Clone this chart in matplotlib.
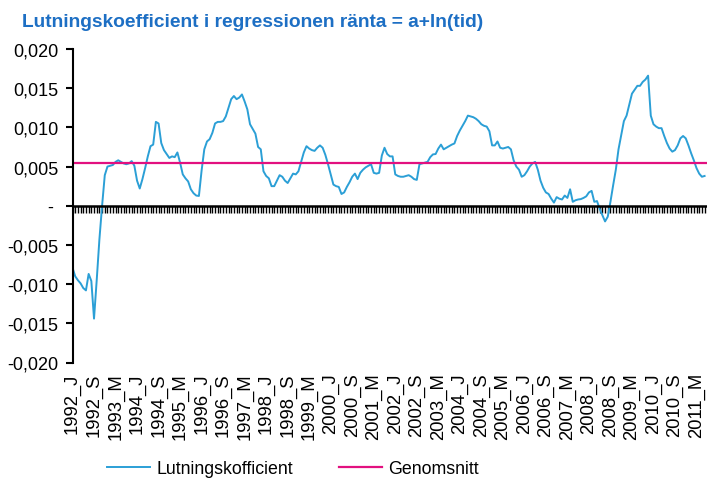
import numpy as np
import matplotlib
matplotlib.use("Agg")
import matplotlib.pyplot as plt
from matplotlib.ticker import FuncFormatter

plt.rcParams['font.family'] = ['Liberation Sans', 'DejaVu Sans']

# Monthly values (x 0.001), Jan 1992 onwards
v1992 = [-7.9, -9.0, -9.5, -9.9, -10.5, -10.8, -8.7, -9.6, -14.4, -9.5, -4.3, 0.0]
v1993 = [3.9, 5.0, 5.1, 5.2, 5.6, 5.8, 5.6, 5.4, 5.3, 5.4, 5.7, 5.1]
v1994 = [3.2, 2.2, 3.4, 4.8, 6.3, 7.6, 7.8, 10.7, 10.5, 8.0, 7.1, 6.6]
v1995 = [6.1, 6.3, 6.2, 6.8, 5.5, 4.0, 3.5, 3.1, 2.1, 1.6, 1.3, 1.25]
v1996 = [4.5, 7.2, 8.2, 8.5, 9.3, 10.5, 10.7, 10.7, 10.8, 11.4, 12.5, 13.6]
v1997 = [14.0, 13.6, 13.8, 14.2, 13.3, 12.3, 10.4, 9.8, 9.2, 7.5, 7.2, 4.4]
v1998 = [3.8, 3.5, 2.5, 2.5, 3.2, 3.9, 3.7, 3.2, 2.9, 3.5, 4.1, 4.0]
v1999 = [4.4, 5.6, 6.8, 7.6, 7.3, 7.1, 7.0, 7.4, 7.7, 7.4, 6.5, 5.3]
v2000 = [4.0, 2.7, 2.5, 2.4, 1.5, 1.7, 2.4, 3.0, 3.7, 4.1, 3.4, 4.2]
v2001 = [4.6, 4.9, 5.1, 5.3, 4.2, 4.1, 4.2, 6.4, 7.4, 6.6, 6.3, 6.3]
v2002 = [4.0, 3.8, 3.7, 3.7, 3.8, 3.9, 3.7, 3.4, 3.3, 5.3, 5.4, 5.5]
v2003 = [5.6, 6.2, 6.55, 6.6, 7.3, 7.8, 7.2, 7.4, 7.6, 7.8, 7.95, 8.9]
v2004 = [9.6, 10.2, 10.8, 11.5, 11.4, 11.3, 11.1, 10.8, 10.4, 10.2, 10.1, 9.5]
v2005 = [7.7, 7.7, 8.2, 7.4, 7.3, 7.4, 7.5, 7.2, 5.8, 5.0, 4.6, 3.7]
v2006 = [3.9, 4.4, 5.0, 5.4, 5.6, 4.6, 3.2, 2.3, 1.7, 1.5, 0.9, 0.4]
v2007 = [1.1, 0.9, 0.8, 1.3, 1.0, 2.1, 0.5, 0.7, 0.8, 0.85, 1.0, 1.2]
v2008 = [1.7, 1.9, 0.5, 0.6, -0.4, -1.2, -2.0, -1.4, 0.5, 2.6, 4.6, 7.2]
v2009 = [9.0, 10.8, 11.5, 12.9, 14.3, 14.8, 15.3, 15.3, 15.8, 16.1, 16.6, 11.5]
v2010 = [10.4, 10.1, 9.9, 9.9, 8.9, 8.0, 7.3, 6.9, 7.1, 7.7, 8.6, 8.9]
v2011 = [8.6, 7.7, 6.7, 5.8, 4.8, 4.1, 3.7, 3.8]

genomsnitt = 0.0054

tick_labels = ["1992_J", "1992_S", "1993_M", "1994_J", "1994_S", "1995_M",
               "1996_J", "1996_S", "1997_M", "1998_J", "1998_S", "1999_M",
               "2000_J", "2000_S", "2001_M", "2002_J", "2002_S", "2003_M",
               "2004_J", "2004_S", "2005_M", "2006_J", "2006_S", "2007_M",
               "2008_J", "2008_S", "2009_M", "2010_J", "2010_S", "2011_M"]
label_step = 8  # months between labels

series_name = "Lutningskofficient"
mean_name = "Genomsnitt"
title = "Lutningskoefficient i regressionen ränta = a+ln(tid)"

vals = np.array(v1992 + v1993 + v1994 + v1995 + v1996 + v1997 + v1998 + v1999 +
                v2000 + v2001 + v2002 + v2003 + v2004 + v2005 + v2006 + v2007 +
                v2008 + v2009 + v2010 + v2011) / 1000.0
months = np.arange(len(vals))

fig = plt.figure(figsize=(7.07, 4.81), dpi=100)
ax = fig.add_axes([72.5 / 707, 1 - 363.5 / 481, 1 - 72.5 / 707, (363.5 - 50) / 481])

blue = '#2b9fd6'
pink = '#e2107f'

l1, = ax.plot(months, vals, color=blue, lw=1.4, label=series_name)
l2 = ax.axhline(genomsnitt, color=pink, lw=1.6, label=mean_name)

ax.set_ylim(-0.020, 0.020)
ax.set_xlim(0, 235.9)

# spines
for s in ['top', 'right']:
    ax.spines[s].set_visible(False)
ax.spines['left'].set_linewidth(1.5)
ax.spines['bottom'].set_position(('data', 0))
ax.spines['bottom'].set_linewidth(1.8)

# y ticks
ax.set_yticks(np.arange(-0.020, 0.0201, 0.005))
def yfmt(v, pos):
    if abs(v) < 1e-9:
        return "- "
    return f"{v:.3f}".replace('.', ',')
ax.yaxis.set_major_formatter(FuncFormatter(yfmt))
ax.tick_params(axis='y', direction='out', length=5, width=1.5, pad=5, labelsize=13)

# monthly ticks on zero line
ax.set_xticks(months)
ax.tick_params(axis='x', direction='out', length=5, width=1.0, labelbottom=False)

# labels at bottom via secondary axis
sec = ax.secondary_xaxis('bottom')
sec.set_xticks(np.arange(len(tick_labels)) * label_step, tick_labels, rotation=90)
sec.tick_params(length=0, pad=7, labelsize=13.3)
sec.spines['bottom'].set_visible(False)

fig.text(22 / 707, 1 - 27 / 481, title, color='#1d6fc4', fontsize=13.8,
         fontweight='bold', ha='left', va='baseline')

fig.legend(handles=[l1, l2], loc='center', bbox_to_anchor=(293 / 707, 1 - 470 / 481),
           ncol=2, frameon=False, fontsize=12.8, handlelength=2.4,
           handletextpad=0.35, columnspacing=2.6)

fig.savefig('out.png', dpi=100)
